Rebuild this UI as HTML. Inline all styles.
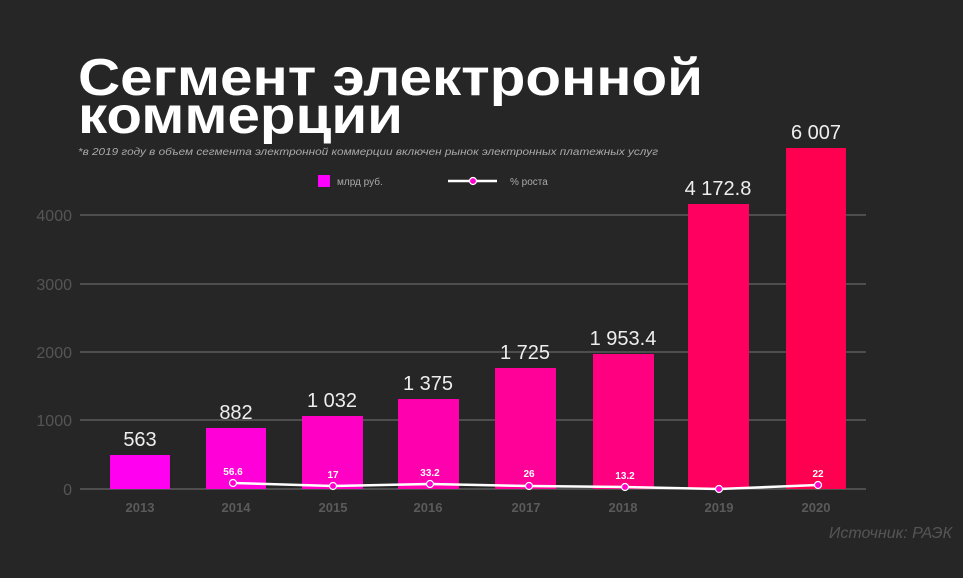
<!DOCTYPE html>
<html><head><meta charset="utf-8"><style>
body{margin:0;background:#262626;width:963px;height:573px;overflow:hidden;font-family:"Liberation Sans",sans-serif}
</style></head><body>
<svg width="963" height="573" xmlns="http://www.w3.org/2000/svg" font-family="Liberation Sans, sans-serif">
<rect width="963" height="573" fill="#262626"/>
<text x="78" y="95" fill="#fff" font-size="52" font-weight="bold" textLength="625" lengthAdjust="spacingAndGlyphs">Сегмент электронной</text>
<text x="78" y="133" fill="#fff" font-size="52" font-weight="bold" textLength="325" lengthAdjust="spacingAndGlyphs">коммерции</text>
<text x="78" y="155" fill="#aaa" font-size="10.5" font-style="italic" textLength="580" lengthAdjust="spacingAndGlyphs">*в 2019 году в объем сегмента электронной коммерции включен рынок электронных платежных услуг</text>
<rect x="318" y="175" width="12" height="12" fill="#f0f"/>
<text x="337" y="185" fill="#aaa" font-size="10">млрд руб.</text>
<line x1="448" y1="181" x2="497" y2="181" stroke="#fff" stroke-width="2.5"/>
<circle cx="473" cy="181" r="3.5" fill="#f0c" stroke="#fff" stroke-width="1.2"/>
<text x="510" y="185" fill="#aaa" font-size="10">% роста</text>
<g stroke="#777" stroke-width="1">
<line x1="80" y1="215" x2="866" y2="215"/><line x1="80" y1="284" x2="866" y2="284"/>
<line x1="80" y1="352" x2="866" y2="352"/><line x1="80" y1="420" x2="866" y2="420"/>
<line x1="80" y1="489" x2="866" y2="489"/>
</g>
<g fill="#555" font-size="16" text-anchor="end">
<text x="72" y="221">4000</text><text x="72" y="290">3000</text><text x="72" y="358">2000</text><text x="72" y="426">1000</text><text x="72" y="495">0</text>
</g>
<g>
<rect x="110" y="455" width="60" height="34" fill="#ff00f0"/>
<rect x="206" y="428" width="60" height="61" fill="#ff00d8"/>
<rect x="302" y="416" width="61" height="73" fill="#ff00c4"/>
<rect x="398" y="399" width="61" height="90" fill="#ff00ae"/>
<rect x="495" y="368" width="61" height="121" fill="#ff0098"/>
<rect x="593" y="354" width="61" height="135" fill="#ff0080"/>
<rect x="688" y="204" width="61" height="285" fill="#ff0060"/>
<rect x="786" y="148" width="60" height="341" fill="#ff0050"/>
</g>
<g fill="#eee" font-size="20" text-anchor="middle">
<text x="140" y="446">563</text><text x="236" y="419">882</text><text x="332" y="407">1 032</text>
<text x="428" y="390">1 375</text><text x="525" y="359">1 725</text><text x="623" y="345">1 953.4</text>
<text x="718" y="195">4 172.8</text><text x="816" y="139">6 007</text>
</g>
<polyline points="233,483 333,486 430,484 529,486 625,487 719,489 818,485" fill="none" stroke="#fff" stroke-width="2.5"/>
<g fill="#f0c" stroke="#fff" stroke-width="1.2">
<circle cx="233" cy="483" r="3.5"/><circle cx="333" cy="486" r="3.5"/><circle cx="430" cy="484" r="3.5"/>
<circle cx="529" cy="486" r="3.5"/><circle cx="625" cy="487" r="3.5"/><circle cx="719" cy="489" r="3.5"/><circle cx="818" cy="485" r="3.5"/>
</g>
<g fill="#fff" font-size="10" font-weight="bold" text-anchor="middle">
<text x="233" y="475">56.6</text><text x="333" y="478">17</text><text x="430" y="476">33.2</text>
<text x="529" y="477">26</text><text x="625" y="479">13.2</text><text x="818" y="477">22</text>
</g>
<g fill="#5a5a5a" font-size="13" font-weight="bold" text-anchor="middle">
<text x="140" y="512">2013</text><text x="236" y="512">2014</text><text x="333" y="512">2015</text><text x="428" y="512">2016</text>
<text x="526" y="512">2017</text><text x="623" y="512">2018</text><text x="719" y="512">2019</text><text x="816" y="512">2020</text>
</g>
<text x="952" y="538" fill="#555" font-size="16" font-style="italic" text-anchor="end">Источник: РАЭК</text>
</svg>
</body></html>
